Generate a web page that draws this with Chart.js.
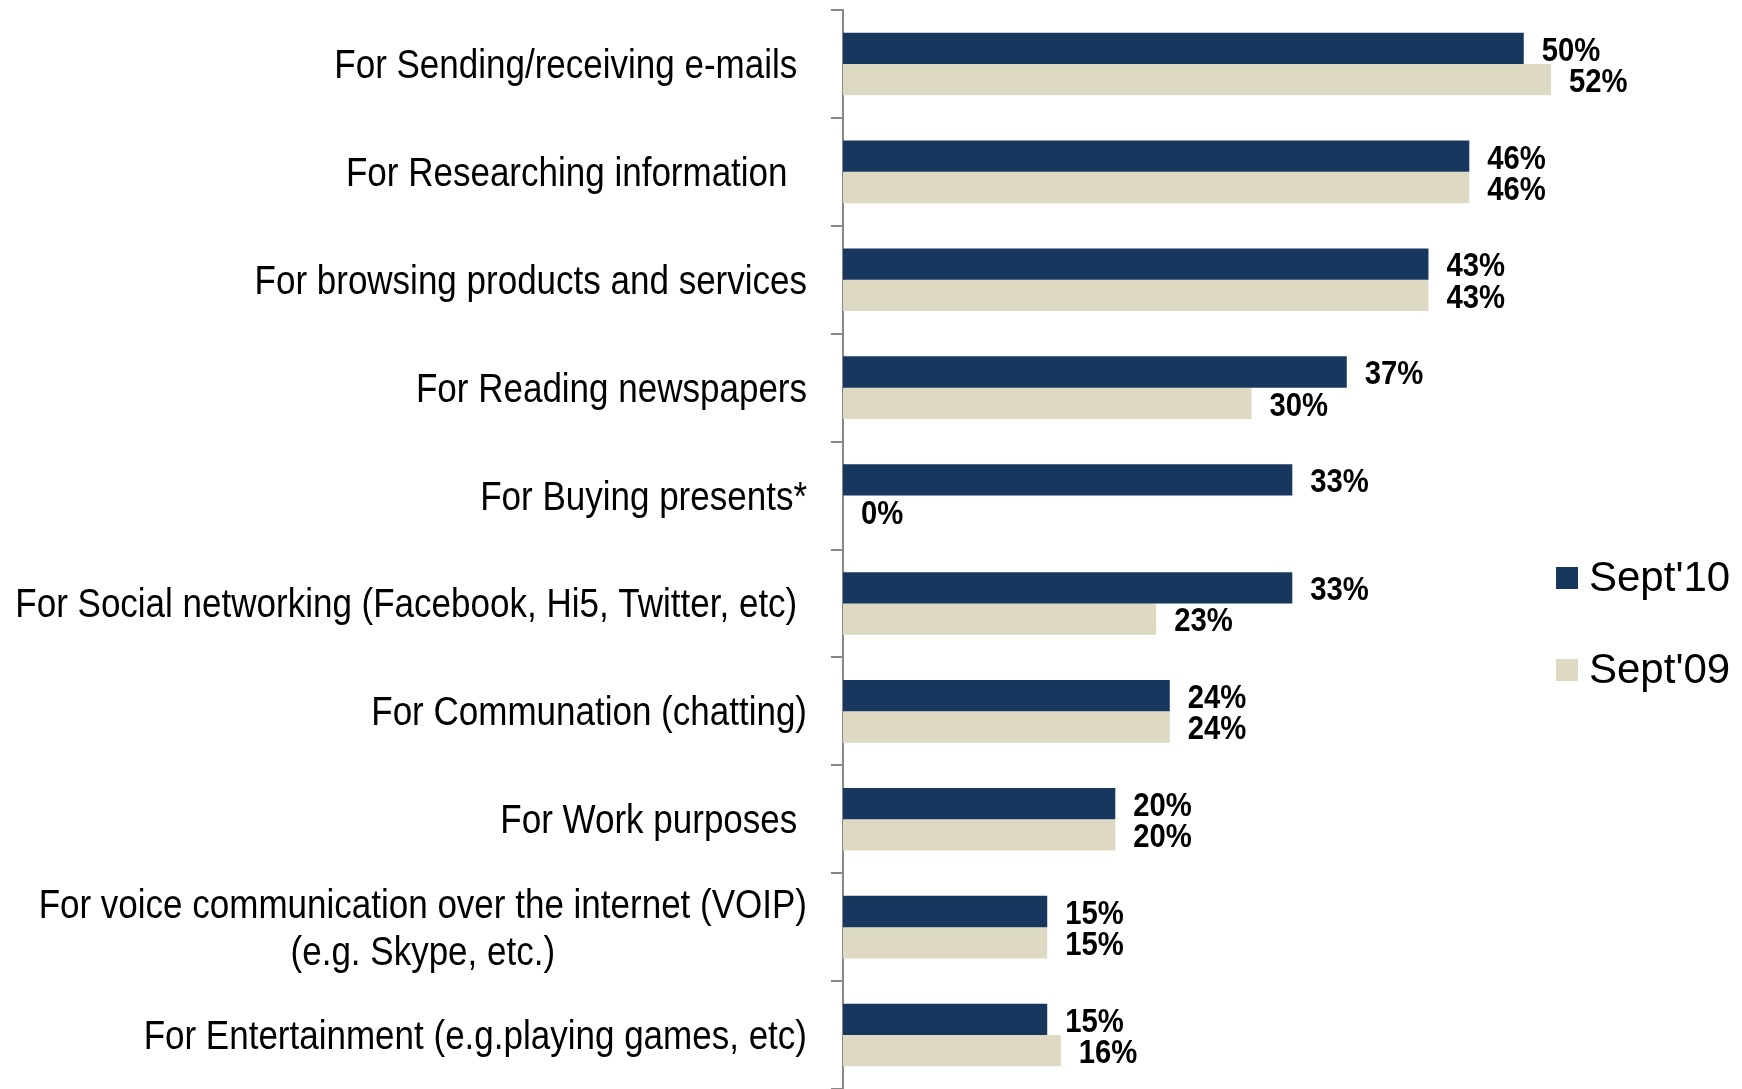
<!DOCTYPE html>
<html lang="en">
<head>
<meta charset="utf-8">
<title>Internet usage purposes - Sept'10 vs Sept'09</title>
<script src="https://cdn.jsdelivr.net/npm/chart.js@4.4.1/dist/chart.umd.min.js"></script>
<style>
    html, body { margin: 0; padding: 0; background: #ffffff; }
    .chart-wrap { position: relative; width: 1742px; height: 1089px; }
</style>
</head>
<body>
<div class="chart-wrap">
    <canvas id="usageChart"></canvas>
</div>
<script>
// Chart data (top to bottom, as in the picture)
const categories = [
    "For Sending/receiving e-mails ",
    "For Researching information  ",
    "For browsing products and services",
    "For Reading newspapers",
    "For Buying presents*",
    "For Social networking (Facebook, Hi5, Twitter, etc) ",
    "For Communation (chatting)",
    "For Work purposes ",
    ["For voice communication over the internet (VOIP)", "(e.g. Skype, etc.)"],
    "For Entertainment (e.g.playing games, etc)"
];
const seriesNames = ["Sept'10", "Sept'09"];
const sept10 = [50, 46, 43, 37, 33, 33, 24, 20, 15, 15];
const sept09 = [52, 46, 43, 30, 0, 23, 24, 20, 15, 16];
const axisMax = 52;

const NAVY = '#17375e';
const BEIGE = '#ddd9c3';
const AXIS_GREY = '#888888';
const SANS = '"Liberation Sans", Arial, sans-serif';
// no narrow face installed: squeeze the regular one horizontally
const LABEL_SQUEEZE = 0.875;
const VALUE_SQUEEZE = 0.86;

document.addEventListener('DOMContentLoaded', () => {
    initializeChart();
});

/**
 * Draw text squeezed horizontally (fake narrow face)
 */
function drawNarrow(ctx, text, x, y, squeeze) {
    ctx.save();
    ctx.translate(x, y);
    ctx.scale(squeeze, 1);
    ctx.fillText(text, 0, 0);
    ctx.restore();
}

/**
 * Category labels: block right aligned to the axis, lines centred inside the block
 */
const categoryLabels = {
    id: 'categoryLabels',
    afterDraw(chart) {
        const ctx = chart.ctx;
        const yScale = chart.scales.y;
        const right = chart.chartArea.left - 36;
        const lineHeight = 47;
        ctx.save();
        ctx.font = '40px ' + SANS;
        ctx.fillStyle = '#000000';
        ctx.textAlign = 'center';
        ctx.textBaseline = 'middle';
        categories.forEach((label, i) => {
            const lines = Array.isArray(label) ? label : [label];
            const blockWidth = Math.max(...lines.map(l => ctx.measureText(l).width)) * LABEL_SQUEEZE;
            const cx = right - blockWidth / 2;
            const yMid = yScale.getPixelForTick(i) + 3;
            const top = yMid - (lines.length - 1) * lineHeight / 2;
            lines.forEach((line, k) => drawNarrow(ctx, line, cx, top + k * lineHeight, LABEL_SQUEEZE));
        });
        ctx.restore();
    }
};

/**
 * Percent labels just past the end of each bar
 */
const valueLabels = {
    id: 'valueLabels',
    afterDatasetsDraw(chart) {
        const ctx = chart.ctx;
        ctx.save();
        ctx.font = 'bold 34px ' + SANS;
        ctx.fillStyle = '#000000';
        ctx.textAlign = 'left';
        ctx.textBaseline = 'middle';
        chart.data.datasets.forEach((ds, d) => {
            const meta = chart.getDatasetMeta(d);
            meta.data.forEach((bar, i) => {
                drawNarrow(ctx, ds.data[i] + '%', bar.x + 18, bar.y + 3, VALUE_SQUEEZE);
            });
        });
        ctx.restore();
    }
};

/**
 * Legend on the right, square markers
 */
const sideLegend = {
    id: 'sideLegend',
    afterDraw(chart) {
        const ctx = chart.ctx;
        const x = chart.chartArea.right + 5;
        const rows = [578, 670];
        ctx.save();
        ctx.font = '42px ' + SANS;
        ctx.textAlign = 'left';
        ctx.textBaseline = 'middle';
        chart.data.datasets.forEach((ds, d) => {
            const y = rows[d];
            ctx.fillStyle = ds.backgroundColor;
            ctx.fillRect(x, y - 11, 22, 22);
            ctx.fillStyle = '#000000';
            ctx.fillText(ds.label, x + 33, y + 1);
        });
        ctx.restore();
    }
};

/**
 * Horizontal grouped bar chart
 */
function initializeChart() {
    const ctx = document.getElementById('usageChart').getContext('2d');
    new Chart(ctx, {
        type: 'bar',
        data: {
            labels: categories,
            datasets: [
                { label: seriesNames[0], data: sept10, backgroundColor: NAVY, borderWidth: 0 },
                { label: seriesNames[1], data: sept09, backgroundColor: BEIGE, borderWidth: 0 }
            ]
        },
        options: {
            indexAxis: 'y',
            responsive: true,
            maintainAspectRatio: false,
            devicePixelRatio: 1,
            animation: false,
            datasets: {
                bar: { categoryPercentage: 0.58, barPercentage: 1.0 }
            },
            layout: { padding: { top: 10, right: 191, bottom: 0, left: 0 } },
            plugins: {
                legend: { display: false },
                tooltip: { enabled: false }
            },
            scales: {
                x: { display: false, min: 0, max: axisMax },
                y: {
                    ticks: { display: false },
                    grid: {
                        offset: true,
                        drawOnChartArea: false,
                        drawTicks: true,
                        tickLength: 12,
                        color: AXIS_GREY,
                        lineWidth: 2
                    },
                    border: { display: true, color: AXIS_GREY, width: 2 },
                    afterFit(scale) { scale.width = 843; }
                }
            }
        },
        plugins: [categoryLabels, valueLabels, sideLegend]
    });
}
</script>
</body>
</html>
